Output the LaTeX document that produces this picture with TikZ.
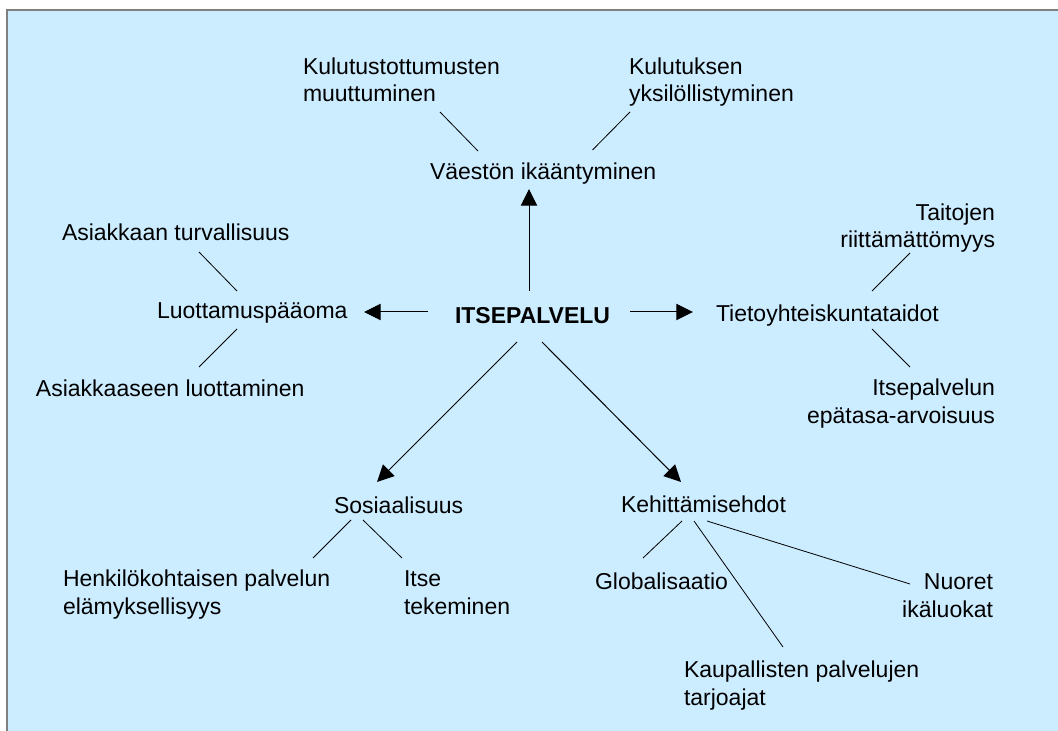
\documentclass[tikz,border=0pt]{standalone}
\usepackage{fontspec}
\setmainfont{Liberation Sans}
\usetikzlibrary{arrows.meta}
\definecolor{bgblue}{HTML}{CCECFF}
\definecolor{framegray}{HTML}{808080}
\begin{document}
\begin{tikzpicture}[x=0.75pt,y=-0.75pt,
  lbl/.style={inner sep=0pt,outer sep=0pt,font=\fontsize{17.25}{20.7}\selectfont},
  conn/.style={line width=0.6pt,draw=black},
  arr/.style={line width=0.75pt,draw=black,-{Triangle[length=12.5pt,width=12.3pt]}}]
\useasboundingbox (0,0) rectangle (1058,731);
\fill[white] (0,0) rectangle (1058,731);
\begin{scope}
\clip (0,0) rectangle (1058,731);
\draw[framegray,line width=1.5pt,fill=bgblue] (7,10) rectangle (1080,760);
\end{scope}

% nodes (multi-line nodes are placed by the baseline of their last line)
\node[lbl,anchor=base west,align=left] (kul1) at (303,102) {Kulutustottumusten\\muuttuminen};
\node[lbl,anchor=base west,align=left] (kul2) at (629,102) {Kulutuksen\\yksilöllistyminen};
\node[lbl,anchor=base west] (vae) at (430,180) {Väestön ikääntyminen};
\node[lbl,anchor=base west] (asi1) at (62,240.7) {Asiakkaan turvallisuus};
\node[lbl,anchor=base west] (luo) at (157,319) {Luottamuspääoma};
\node[lbl,anchor=base west] (asi2) at (36,397) {Asiakkaaseen luottaminen};
\node[lbl,anchor=base west,font=\fontsize{17.25}{20.7}\selectfont\bfseries] (itse) at (455,324) {ITSEPALVELU};
\node[lbl,anchor=base west] (tie) at (716,322) {Tietoyhteiskuntataidot};
\node[lbl,anchor=base east,align=right] (tai) at (995,248) {Taitojen\\riittämättömyys};
\node[lbl,anchor=base east,align=right] (itp) at (995,423) {Itsepalvelun\\epätasa-arvoisuus};
\node[lbl,anchor=base west] (sos) at (334,513) {Sosiaalisuus};
\node[lbl,anchor=base west,align=left] (hen) at (63,614) {Henkilökohtaisen palvelun\\elämyksellisyys};
\node[lbl,anchor=base west,align=left] (its2) at (404,614) {Itse\\tekeminen};
\node[lbl,anchor=base west] (keh) at (621,512) {Kehittämisehdot};
\node[lbl,anchor=base west] (glo) at (595,589) {Globalisaatio};
\node[lbl,anchor=base east,align=right] (nuo) at (993,617) {Nuoret\\ikäluokat};
\node[lbl,anchor=base west,align=left] (kau) at (684,705) {Kaupallisten palvelujen\\tarjoajat};

% connector end points
\coordinate (c1a) at (440,112);  \coordinate (c1b) at (478,151);
\coordinate (c2a) at (630,112);  \coordinate (c2b) at (592.5,150);
\coordinate (c3a) at (199,252);  \coordinate (c3b) at (237,291);
\coordinate (c4a) at (237,329);  \coordinate (c4b) at (199,367);
\coordinate (c5a) at (910,253);  \coordinate (c5b) at (872,291);
\coordinate (c6a) at (872,329);  \coordinate (c6b) at (910,367);
\coordinate (c7a) at (351,520);  \coordinate (c7b) at (313,558);
\coordinate (c8a) at (363,520);  \coordinate (c8b) at (402,558);
\coordinate (c9a) at (682,521);  \coordinate (c9b) at (643,558);
\coordinate (c10a) at (694,521); \coordinate (c10b) at (783,647);
\coordinate (c11a) at (707,521); \coordinate (c11b) at (910,584);

\coordinate (a1s) at (529,291); \coordinate (a1e) at (529,189);
\coordinate (a2s) at (428,312); \coordinate (a2e) at (364,312);
\coordinate (a3s) at (630,312); \coordinate (a3e) at (693,312);
\coordinate (a4s) at (517,342); \coordinate (a4e) at (377,482);
\coordinate (a5s) at (542,342); \coordinate (a5e) at (681,482);

\draw[conn] (c1a) -- (c1b);
\draw[conn] (c2a) -- (c2b);
\draw[conn] (c3a) -- (c3b);
\draw[conn] (c4a) -- (c4b);
\draw[conn] (c5a) -- (c5b);
\draw[conn] (c6a) -- (c6b);
\draw[conn] (c7a) -- (c7b);
\draw[conn] (c8a) -- (c8b);
\draw[conn] (c9a) -- (c9b);
\draw[conn] (c10a) -- (c10b);
\draw[conn] (c11a) -- (c11b);

\draw[arr] (a1s) -- (a1e);
\draw[arr] (a2s) -- (a2e);
\draw[arr] (a3s) -- (a3e);
\draw[arr] (a4s) -- (a4e);
\draw[arr] (a5s) -- (a5e);
\end{tikzpicture}
\end{document}
